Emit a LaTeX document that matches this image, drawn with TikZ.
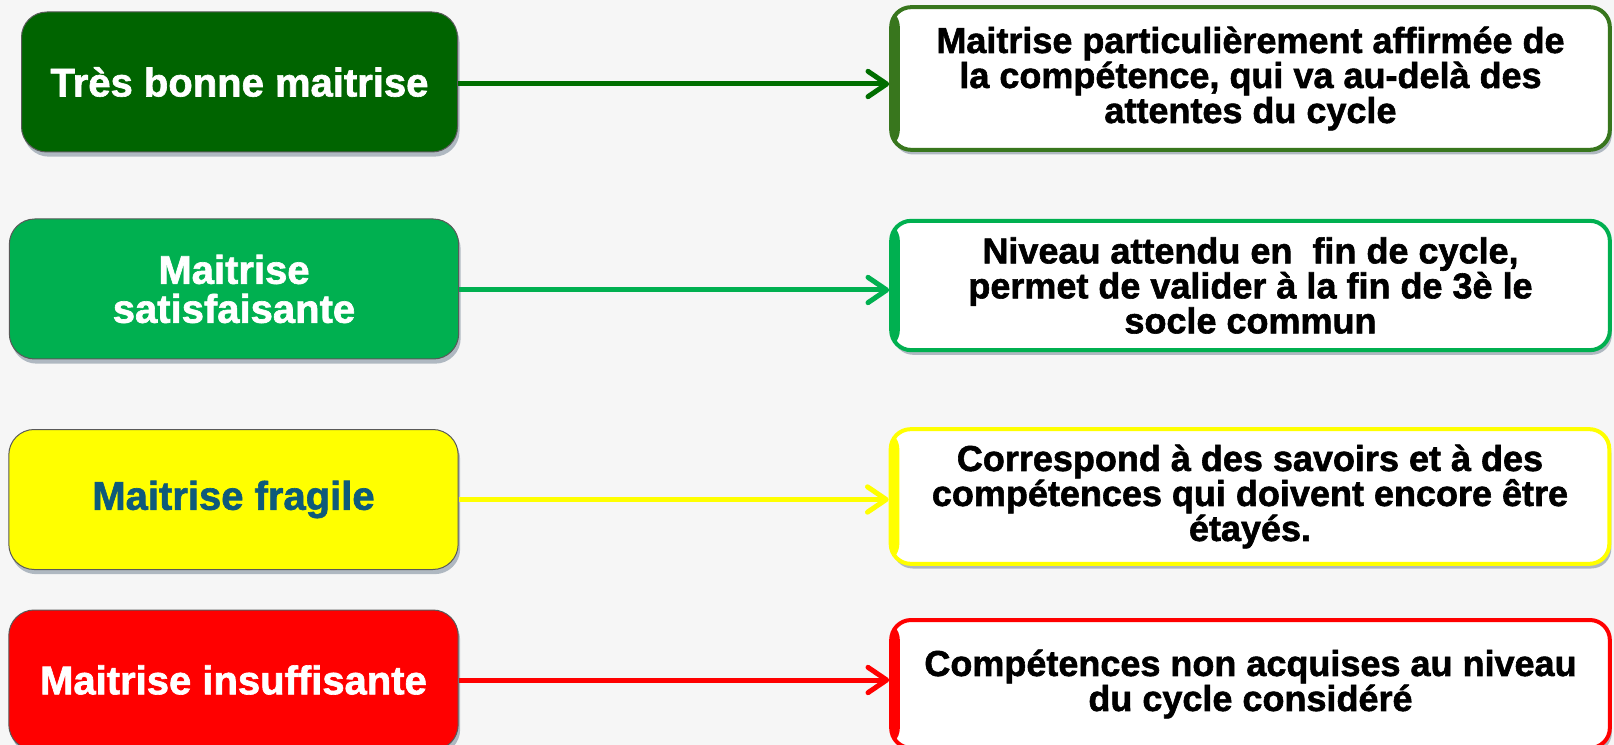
\documentclass[tikz,border=0pt]{standalone}
\usepackage{fontspec}
\setsansfont{Liberation Sans}[BoldFeatures={FakeBold=1.6}]
\usetikzlibrary{arrows.meta,shadows}

\definecolor{tresbon}{RGB}{0,100,0}
\definecolor{tresbonline}{RGB}{56,118,29}
\definecolor{tresbonarrow}{RGB}{0,110,0}
\definecolor{satisf}{RGB}{0,176,80}
\definecolor{fragile}{RGB}{255,255,0}
\definecolor{fragiletext}{RGB}{14,90,122}
\definecolor{insuff}{RGB}{255,0,0}
\definecolor{fond}{RGB}{246,246,246}

\begin{document}
\begin{tikzpicture}[x=0.75pt,y=0.75pt,yscale=-1,xscale=1,
	ombre/.style={drop shadow={shadow xshift=1.5pt,shadow yshift=-3.5pt,opacity=.45,fill={rgb,255:red,90;green,110;blue,130}}},
	lbox/.style={draw=black!65,line width=0.75pt,rounded corners=19pt,minimum width=337pt,minimum height=105pt,inner sep=0pt,align=center,text=white,font=\sffamily\bfseries\fontsize{30}{29.25}\selectfont,ombre},
	rbox/.style={draw=#1,fill=white,line width=3pt,rounded corners=15pt,minimum width=539pt,inner sep=0pt,align=center,text=black,font=\sffamily\bfseries\fontsize{27}{26.25}\selectfont,ombre,
		path picture={\fill[#1] (path picture bounding box.north west) rectangle ([xshift=6.5pt]path picture bounding box.south west);}},
	fleche/.style={line width=3.75pt,-{Straight Barb[length=14pt,width=19pt,round]}}]
	%uncomment if require: \path (0,745); %set diagram left start at 0, and has height of 745
	\useasboundingbox (0,0) rectangle (1614,745);
	\fill[fond] (0,0) rectangle (1614,745);

	%Shape: Rounded Rect (niveaux)
	\node[lbox,fill=tresbon,minimum width=327pt] (tresbon) at (239.5,82) {Très bonne maitrise};
	\node[lbox,fill=satisf] (satisf) at (234,289) {Maitrise\\satisfaisante};
	\node[lbox,fill=fragile,text=fragiletext] (fragile) at (233.5,499.5) {Maitrise fragile};
	\node[lbox,fill=insuff] (insuff) at (233.5,680) {Maitrise insuffisante};

	% Text Node (definitions)
	\node[rbox=tresbonline,minimum height=107pt] (def-tresbon) at (1250.5,78.5) {Maitrise particulièrement affirmée de\\la compétence, qui va au-delà des\\attentes du cycle};
	\node[rbox=satisf,minimum height=97pt] (def-satisf) at (1250.5,285.5) {Niveau attendu en~ fin de cycle,\\permet de valider à la fin de 3è le\\socle commun};
	\node[rbox=fragile,minimum height=101pt] (def-fragile) at (1250,496.5) {Correspond à des savoirs et à des\\compétences qui doivent encore être\\étayés.};
	\node[rbox=insuff,minimum height=96pt] (def-insuff) at (1250.5,684) {Compétences non acquises au niveau\\du cycle considéré};

	%Straight Lines
	\draw[fleche,color=tresbonarrow] ([yshift=1.5pt]tresbon.east) -- ([yshift=1.5pt]tresbon.east -| def-tresbon.west);
	\draw[fleche,color=satisf] ([yshift=0.75pt]satisf.east) -- ([yshift=0.75pt]satisf.east -| def-satisf.west);
	\draw[fleche,color=fragile] (fragile.east) -- (fragile.east -| def-fragile.west);
	\draw[fleche,color=insuff] (insuff.east) -- (insuff.east -| def-insuff.west);
\end{tikzpicture}
\end{document}
